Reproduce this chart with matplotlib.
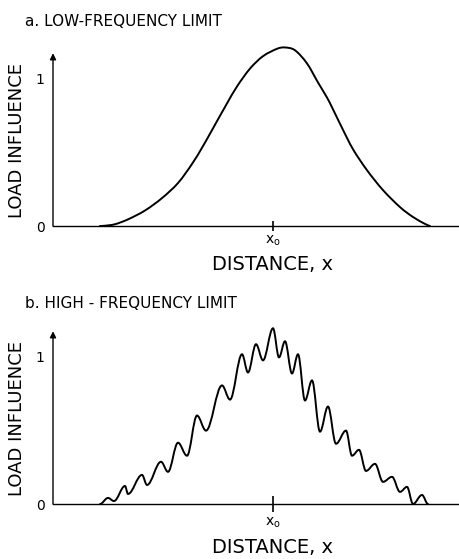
import numpy as np
import matplotlib.pyplot as plt
from matplotlib.path import Path
from matplotlib.patches import PathPatch

# low-frequency limit: smooth influence curve (x relative to x0)
low_x = [-1.73, -1.68, -1.58, -1.45, -1.28, -1.11, -0.95, -0.81, -0.71, -0.63, -0.56,
         -0.46, -0.36, -0.23, -0.10, 0.04, 0.12, 0.22, 0.34, 0.45, 0.54, 0.60,
         0.69, 0.80, 0.94, 1.10, 1.27, 1.40, 1.52, 1.57]
low_y = [0.0, 0.002, 0.012, 0.045, 0.105, 0.189, 0.291, 0.420, 0.530, 0.625, 0.710,
         0.830, 0.945, 1.066, 1.150, 1.200, 1.209, 1.190, 1.101, 0.972, 0.870, 0.790,
         0.665, 0.520, 0.378, 0.243, 0.128, 0.061, 0.014, 0.0]

# high-frequency limit: peaks and troughs of the oscillating curve
high_x = [-1.73, -1.65, -1.59, -1.48, -1.45, -1.31, -1.26, -1.12, -1.05, -0.95, -0.86,
          -0.76, -0.67, -0.51, -0.43, -0.31, -0.25, -0.17, -0.10, 0.00, 0.06,
          0.12, 0.19, 0.25, 0.32, 0.39, 0.47, 0.55, 0.63, 0.73, 0.79,
          0.86, 0.93, 1.02, 1.10, 1.19, 1.27, 1.34, 1.40, 1.49, 1.55]
high_y = [0.0, 0.041, 0.020, 0.122, 0.068, 0.197, 0.129, 0.286, 0.218, 0.415, 0.327,
          0.599, 0.497, 0.803, 0.707, 1.014, 0.891, 1.082, 0.973, 1.190, 0.993,
          1.102, 0.884, 1.014, 0.701, 0.837, 0.490, 0.660, 0.408, 0.497, 0.327,
          0.367, 0.224, 0.272, 0.150, 0.184, 0.082, 0.116, 0.0, 0.061, 0.0]

W, H = 459, 559
XLIM = (-2.2, 1.86)
YTOP = 1.28


def smooth_path(x, y):
    # Catmull-Rom segments written as cubic beziers
    p = np.column_stack([x, y])
    p = np.vstack([p[0], p, p[-1]])
    verts = [p[1]]
    codes = [Path.MOVETO]
    for i in range(1, len(p) - 2):
        c1 = p[i] + (p[i + 1] - p[i - 1]) / 6
        c2 = p[i + 1] - (p[i + 2] - p[i]) / 6
        verts += [c1, c2, p[i + 1]]
        codes += [Path.CURVE4] * 3
    return Path(verts, codes)


def extrema_path(x, y, k=0.36):
    # horizontal tangents at every peak and trough
    verts = [(x[0], y[0])]
    codes = [Path.MOVETO]
    for i in range(len(x) - 1):
        dx = x[i + 1] - x[i]
        verts += [(x[i] + k * dx, y[i]), (x[i + 1] - k * dx, y[i + 1]), (x[i + 1], y[i + 1])]
        codes += [Path.CURVE4] * 3
    return Path(verts, codes)


def panel(base_px, title, title_y, path, tick_len, tick_pad, xlab_y):
    ax = fig.add_axes([53 / W, (H - base_px) / H, (W - 53) / W, 189 / H])
    ax.set_xlim(*XLIM)
    ax.set_ylim(0, YTOP)
    for s in ax.spines.values():
        s.set_visible(False)
    ax.axhline(0, color="k", lw=1.0, clip_on=False)
    ax.annotate("", xy=(XLIM[0], 1.17), xytext=(XLIM[0], 0),
                arrowprops=dict(arrowstyle="-|>", color="k", lw=1.0,
                                mutation_scale=9, shrinkA=0, shrinkB=0),
                annotation_clip=False)
    ax.add_patch(PathPatch(path, fill=False, lw=1.4, color="k", capstyle="round"))
    ax.set_xticks([0])
    ax.set_xticklabels([r"x$_\mathregular{o}$"], fontsize=10)
    ax.tick_params(axis="x", direction="inout", length=tick_len, width=1.2, pad=tick_pad)
    ax.set_yticks([0, 1])
    ax.set_yticklabels(["0", "1"], fontsize=10)
    ax.tick_params(axis="y", length=0, pad=6)
    ax.set_ylabel("LOAD INFLUENCE", fontsize=13)
    ax.yaxis.set_label_coords(-27 / 406, 0.45)
    ax.set_xlabel("DISTANCE, x", fontsize=14)
    ax.xaxis.set_label_coords(219 / 406, xlab_y)
    fig.text(25 / W, 1 - title_y / H, title, fontsize=11, va="center", ha="left")
    return ax


fig = plt.figure(figsize=(W / 100, H / 100), dpi=100)
panel(226, "a. LOW-FREQUENCY LIMIT", 21, smooth_path(low_x, low_y), 7, 2, -0.155)
panel(504, "b. HIGH - FREQUENCY LIMIT", 303, extrema_path(high_x, high_y), 11, 3, -0.18)
fig.savefig("out.png", dpi=100)
